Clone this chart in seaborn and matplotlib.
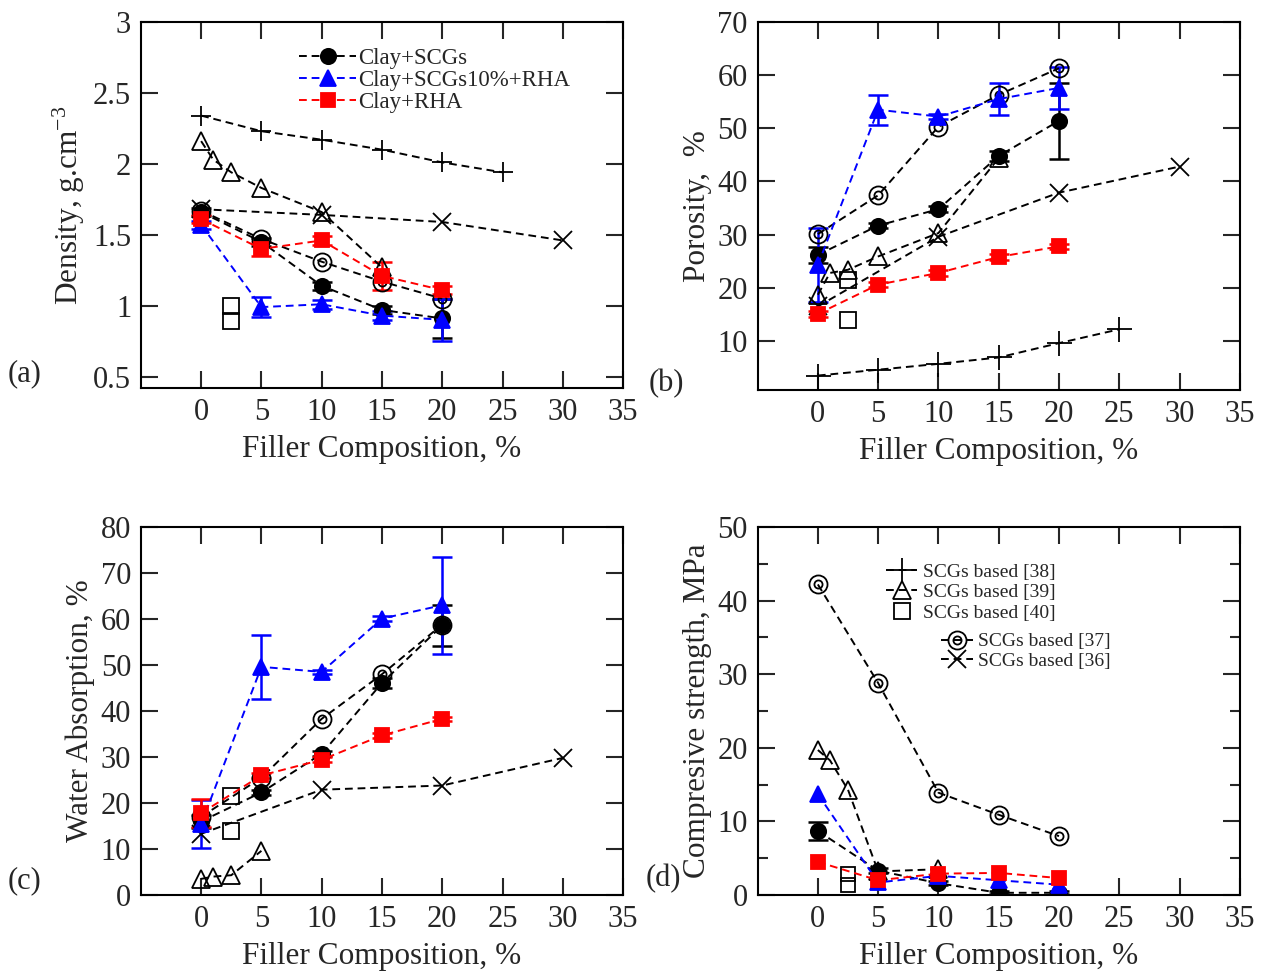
import matplotlib
matplotlib.use("Agg")
import matplotlib.pyplot as plt
import seaborn as sns
from matplotlib.path import Path
from matplotlib.lines import Line2D
from matplotlib.ticker import MultipleLocator, FuncFormatter

# ---- x positions (filler composition, %) ----
x_main = [0, 5, 10, 15, 20]
x_ref38 = [0, 5, 10, 15, 20, 25]
x_ref39 = [0, 1, 2.5, 5, 10, 15]
x_ref39_c = [0, 1, 2.5, 5]
x_ref39_d = [0, 1, 2.5, 5, 10]
x_ref40 = [2.5, 2.5]
x_ref37 = [0, 5, 10, 15, 20]
x_ref36 = [0, 10, 20, 30]

# ---- (a) density, g/cm3 ----
dens_scg = [1.66, 1.45, 1.14, 0.97, 0.91]
dens_scg_err = [0.03, 0.03, 0.03, 0.03, 0.14]
dens_mix = [1.57, 0.99, 1.01, 0.93, 0.90]
dens_mix_err = [0.03, 0.07, 0.03, 0.03, 0.15]
dens_rha = [1.61, 1.40, 1.46, 1.21, 1.11]
dens_rha_err = [0.03, 0.05, 0.03, 0.10, 0.03]
dens_ref38 = [2.34, 2.23, 2.17, 2.10, 2.01, 1.94]
dens_ref39 = [2.16, 2.03, 1.94, 1.83, 1.66, 1.27]
dens_ref40 = [1.00, 0.89]
dens_ref37 = [1.67, 1.47, 1.31, 1.17, 1.05]
dens_ref36 = [1.68, 1.64, 1.59, 1.46]

# ---- (b) porosity, % ----
por_scg = [26.2, 31.7, 34.8, 44.8, 51.4]
por_scg_err = [1.5, 0.5, 0.5, 1.0, 7.2]
por_mix = [24.3, 53.5, 52.2, 55.5, 57.6]
por_mix_err = [7.0, 2.8, 0.5, 3.0, 3.9]
por_rha = [15.1, 20.6, 22.8, 25.8, 27.8]
por_rha_err = [0.5, 0.5, 0.5, 0.5, 0.5]
por_ref38 = [3.5, 4.6, 5.7, 6.9, 9.6, 12.2]
por_ref39 = [18.7, 22.8, 23.4, 25.9, 30.3, 44.4]
por_ref40 = [21.5, 14.0]
por_ref37 = [30.1, 37.4, 50.3, 56.3, 61.3]
por_ref36 = [16.5, 29.6, 37.9, 42.8]

# ---- (c) water absorption, % ----
wa_scg = [16.0, 22.3, 30.7, 46.1, 58.6]
wa_scg_err = [1.5, 0.5, 0.5, 1.0, 4.5]
wa_mix = [15.4, 49.6, 48.5, 60.1, 63.0]
wa_mix_err = [5.2, 6.9, 0.5, 0.5, 10.5]
wa_rha = [17.8, 26.0, 29.4, 34.7, 38.3]
wa_rha_err = [3.0, 0.5, 0.5, 0.5, 0.5]
wa_ref39 = [3.5, 4.0, 4.3, 9.6]
wa_ref40 = [21.5, 14.0]
wa_ref37 = [17.0, 25.5, 38.3, 48.0, 58.8]
wa_ref36 = [13.3, 22.9, 23.8, 29.8]

# ---- (d) compressive strength, MPa ----
cs_scg = [8.7, 3.3, 1.6, 0.3, 0.3]
cs_scg_err = [1.2, 0.3, 0.3, 0.2, 0.2]
cs_mix = [13.7, 1.7, 2.6, 2.0, 1.4]
cs_rha = [4.5, 2.0, 2.9, 3.0, 2.3]
cs_ref39 = [19.7, 18.3, 14.3, 3.2, 3.5]
cs_ref40 = [2.8, 1.3]
cs_ref37 = [42.2, 28.8, 13.9, 10.9, 8.0]

DASH = (0, (4, 2.5))
FS = 22

# double circle marker used for ref [37]
_circ = Path.unit_circle()
RING = Path.make_compound_path(_circ, Path(_circ.vertices * 0.45, _circ.codes))


def draw_series(ax, x, y, marker, color, size, filled=False, yerr=None,
                label=None, line=True):
    sns.lineplot(x=x, y=y, ax=ax, color=color, marker=marker, markersize=size,
                 markerfacecolor=color if filled else "none",
                 markeredgecolor=color, markeredgewidth=1.3,
                 linestyle=DASH if line else "none", linewidth=1.4,
                 estimator=None, errorbar=None, sort=False, label=label)
    if yerr is not None:
        ax.errorbar(x, y, yerr=yerr, fmt="none", ecolor=color,
                    elinewidth=1.8, capsize=7, capthick=1.8, zorder=1)


def style_axis(ax, ylim, ystep, ylabel, yminor=None):
    ax.set_xlim(-5, 35)
    ax.set_xticks(range(0, 36, 5))
    ax.set_ylim(*ylim)
    ax.yaxis.set_major_locator(MultipleLocator(ystep))
    ax.yaxis.set_major_formatter(FuncFormatter(lambda v, p: f"{v:g}"))
    if yminor:
        ax.yaxis.set_minor_locator(MultipleLocator(yminor))
    ax.tick_params(which="major", direction="in", top=True, right=True,
                   length=12, width=1.5, labelsize=FS, pad=7)
    ax.tick_params(which="minor", direction="in", top=True, right=True,
                   length=7, width=1.5)
    for s in ax.spines.values():
        s.set_linewidth(1.5)
        s.set_color("black")
    ax.set_xlabel("Filler Composition, %", fontsize=FS + 0.5, labelpad=6)
    ax.set_ylabel(ylabel, fontsize=FS + 0.5, labelpad=4)


sns.set_style("ticks")
plt.rcParams["font.family"] = ["Liberation Serif", "DejaVu Serif"]
plt.rcParams["mathtext.default"] = "regular"

fig = plt.figure(figsize=(12.69, 9.76), dpi=100)
ax_a = fig.add_axes([0.111, 0.6025, 0.380, 0.375])
ax_b = fig.add_axes([0.597, 0.6005, 0.380, 0.377])
ax_c = fig.add_axes([0.111, 0.083, 0.380, 0.377])
ax_d = fig.add_axes([0.597, 0.083, 0.380, 0.377])

# (a) density
draw_series(ax_a, x_ref38, dens_ref38, "+", "black", 14)
draw_series(ax_a, x_ref39, dens_ref39, "^", "black", 13)
draw_series(ax_a, x_ref40, dens_ref40, "s", "black", 11, line=False)
draw_series(ax_a, x_ref37, dens_ref37, RING, "black", 13)
draw_series(ax_a, x_ref36, dens_ref36, "x", "black", 13)
draw_series(ax_a, x_main, dens_scg, "o", "black", 11, True, dens_scg_err, "Clay+SCGs")
draw_series(ax_a, x_main, dens_mix, "^", "blue", 11, True, dens_mix_err, "Clay+SCGs10%+RHA")
draw_series(ax_a, x_main, dens_rha, "s", "red", 10, True, dens_rha_err, "Clay+RHA")
style_axis(ax_a, (0.42, 3.0), 0.5, "Density, g.cm$^{-3}$")
ax_a.legend(loc="upper left", bbox_to_anchor=(0.285, 0.985), frameon=False,
            fontsize=16.5, handlelength=2.5, labelspacing=0.05, handletextpad=0.1)

# (b) porosity
draw_series(ax_b, x_ref38, por_ref38, "+", "black", 18)
draw_series(ax_b, x_ref39, por_ref39, "^", "black", 13)
draw_series(ax_b, x_ref40, por_ref40, "s", "black", 11, line=False)
draw_series(ax_b, x_ref37, por_ref37, RING, "black", 13)
draw_series(ax_b, x_ref36, por_ref36, "x", "black", 13)
draw_series(ax_b, x_main, por_scg, "o", "black", 11, True, por_scg_err)
draw_series(ax_b, x_main, por_mix, "^", "blue", 11, True, por_mix_err)
draw_series(ax_b, x_main, por_rha, "s", "red", 10, True, por_rha_err)
style_axis(ax_b, (0.8, 70), 10, "Porosity,  %")

# (c) water absorption
draw_series(ax_c, x_ref39_c, wa_ref39, "^", "black", 13)
draw_series(ax_c, x_ref40, wa_ref40, "s", "black", 11, line=False)
draw_series(ax_c, x_ref37, wa_ref37, RING, "black", 13)
draw_series(ax_c, x_ref36, wa_ref36, "x", "black", 13)
draw_series(ax_c, x_main, wa_scg, "o", "black", 11, True, wa_scg_err)
draw_series(ax_c, x_main, wa_mix, "^", "blue", 11, True, wa_mix_err)
draw_series(ax_c, x_main, wa_rha, "s", "red", 10, True, wa_rha_err)
style_axis(ax_c, (0, 80), 10, "Water Absorption, %")

# (d) compressive strength
draw_series(ax_d, x_ref39_d, cs_ref39, "^", "black", 13)
draw_series(ax_d, x_ref40, cs_ref40, "s", "black", 10, line=False)
draw_series(ax_d, x_ref37, cs_ref37, RING, "black", 13)
draw_series(ax_d, x_main, cs_scg, "o", "black", 11, True, cs_scg_err)
draw_series(ax_d, x_main, cs_mix, "^", "blue", 11, True)
draw_series(ax_d, x_main, cs_rha, "s", "red", 10, True)
style_axis(ax_d, (0, 50), 10, "Compresive strength, MPa", yminor=5)


def proxy(marker, size, line=True):
    return Line2D([], [], color="black", marker=marker, markersize=size,
                  markerfacecolor="none", markeredgewidth=1.3,
                  linestyle=DASH if line else "none", linewidth=1.4)


leg1 = ax_d.legend([proxy("+", 18), proxy("^", 13), proxy("s", 11, line=False)],
                   ["SCGs based [38]", "SCGs based [39]", "SCGs based [40]"],
                   loc="upper left", bbox_to_anchor=(0.23, 0.95), frameon=False,
                   fontsize=14, handlelength=1.6, labelspacing=0.15, handletextpad=0.3)
ax_d.add_artist(leg1)
ax_d.legend([proxy(RING, 13), proxy("x", 13)],
            ["SCGs based [37]", "SCGs based [36]"],
            loc="upper left", bbox_to_anchor=(0.345, 0.76), frameon=False,
            fontsize=14, handlelength=1.6, labelspacing=0.1, handletextpad=0.3)

fig.text(0.006, 0.617, "(a)", fontsize=FS, va="center")
fig.text(0.511, 0.607, "(b)", fontsize=FS, va="center")
fig.text(0.006, 0.098, "(c)", fontsize=FS, va="center")
fig.text(0.509, 0.100, "(d)", fontsize=FS, va="center")

fig.savefig("out.png", dpi=100)
